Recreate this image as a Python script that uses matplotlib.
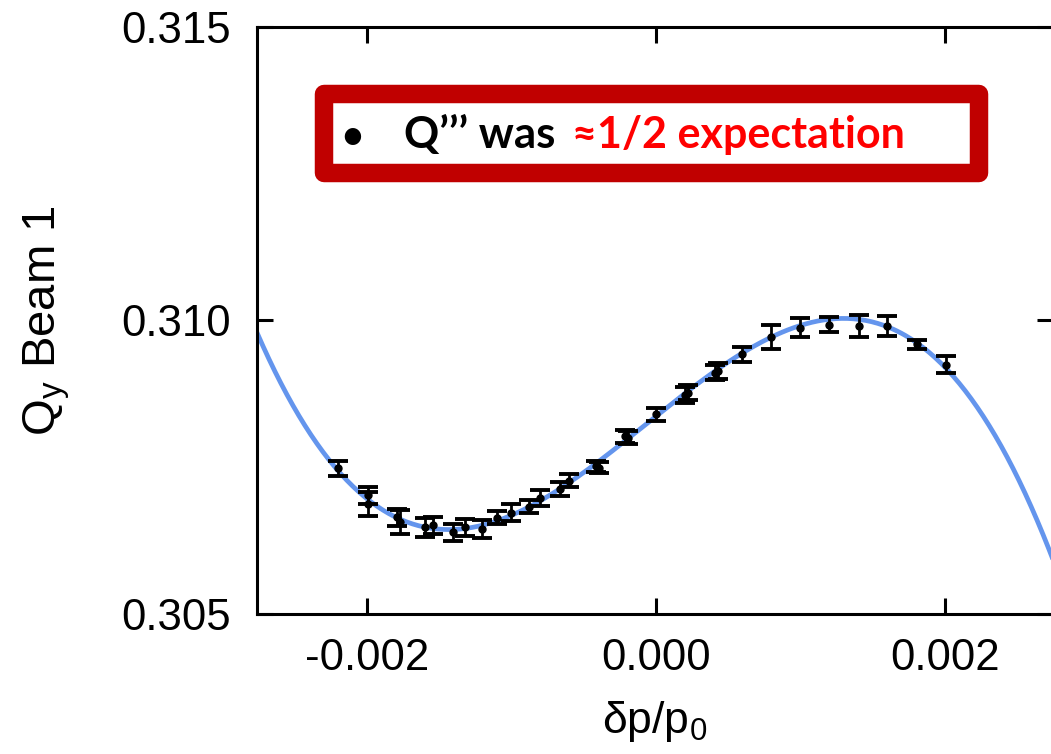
import matplotlib
matplotlib.use("Agg")
import matplotlib.pyplot as plt
import numpy as np
from matplotlib.patches import Rectangle

# --- Data -------------------------------------------------------
# momentum offset dp/p0 and measured vertical tune with errors
dp = [-0.00220, -0.00199, -0.00199, -0.00179, -0.00177, -0.00160, -0.00154,
      -0.00140, -0.00132, -0.00120, -0.00110, -0.00100, -0.00088, -0.00080,
      -0.00066, -0.00060, -0.00041, -0.00039, -0.00021, -0.00019, 0.00000,
      0.00020, 0.00022, 0.00041, 0.00043, 0.00060, 0.00080, 0.00100, 0.00120,
      0.00141, 0.00160, 0.00181, 0.00201]
qy = [0.307484, 0.307019, 0.306882, 0.306649, 0.306564, 0.306474, 0.306508,
      0.306394, 0.306479, 0.306451, 0.306639, 0.306726, 0.306826, 0.306968,
      0.307124, 0.307269, 0.307515, 0.307495, 0.308030, 0.308000, 0.308404,
      0.308730, 0.308770, 0.309110, 0.309140, 0.309424, 0.309716, 0.309877,
      0.309929, 0.309901, 0.309903, 0.309594, 0.309247]
qy_err = [1.28e-4, 1.42e-4, 2.04e-4, 1.42e-4, 2.00e-4, 1.65e-4, 1.42e-4,
          1.42e-4, 1.42e-4, 1.53e-4, 1.14e-4, 1.50e-4, 1.08e-4, 1.36e-4,
          1.22e-4, 1.08e-4, 0.90e-4, 0.90e-4, 1.10e-4, 1.10e-4, 1.08e-4,
          1.30e-4, 1.30e-4, 1.30e-4, 1.30e-4, 1.33e-4, 2.10e-4, 1.62e-4,
          1.28e-4, 1.85e-4, 1.70e-4, 0.77e-4, 1.45e-4]

# fitted curve
fit_dp = [-0.002747, -0.002545, -0.002313, -0.002083, -0.001356, 0.0,
          0.001329, 0.001896, 0.002127, 0.002358, 0.002588, 0.002734]
fit_qy = [0.309716, 0.308693, 0.307842, 0.307104, 0.306445, 0.308382,
          0.310005, 0.309460, 0.308864, 0.308012, 0.306877, 0.306026]

xticks = [-0.002, 0.0, 0.002]
yticks = [0.305, 0.310, 0.315]

# --- Style -------------------------------------------------------
plt.rcParams["font.family"] = "Liberation Sans"
plt.rcParams["mathtext.fontset"] = "custom"
plt.rcParams["mathtext.rm"] = "Liberation Sans"
plt.rcParams["mathtext.it"] = "Liberation Sans"

W, H = 1051, 754
fig = plt.figure(figsize=(W / 100, H / 100), dpi=100)
ax = fig.add_axes([257 / W, 140 / H, 796 / W, 587 / H])

coef = np.polyfit(fit_dp, fit_qy, 4)
xs = np.linspace(-0.00276, 0.00275, 400)
ax.plot(xs, np.polyval(coef, xs), color="#6495ED", lw=3.4, zorder=2)

ax.errorbar(dp, qy, yerr=qy_err, fmt="o", color="black", ms=5,
            elinewidth=2.0, capsize=7, capthick=2.8, zorder=3)

ax.set_xlim(-0.00276, 0.00275)
ax.set_ylim(0.305, 0.315)
ax.set_xticks(xticks)
ax.set_yticks(yticks)
ax.set_xticklabels([f"{t:.3f}" for t in xticks])
ax.set_yticklabels([f"{t:.3f}" for t in yticks])

for s in ax.spines.values():
    s.set_linewidth(2.2)
ax.tick_params(direction="in", length=11.5, width=2.2, labelsize=31.5,
               top=True, right=True)
ax.tick_params(axis="x", pad=17)
ax.tick_params(axis="y", pad=19)

ax.set_xlabel(r"δp/p$_\mathrm{0}$", fontsize=32)
ax.xaxis.set_label_coords(0.5, -0.145)
ax.set_ylabel(r"Q$_\mathrm{y}$ Beam 1", fontsize=34)
ax.yaxis.set_label_coords(-0.232, 0.5)

# --- Annotation box ---------------------------------------------
box = Rectangle((324 / W, 1 - 172.5 / H), 655 / W, 78.5 / H,
                transform=fig.transFigure, facecolor="white",
                edgecolor="#C00000", linewidth=13.3, joinstyle="round",
                zorder=5)
fig.add_artist(box)

fam = ["Lato", "DejaVu Sans"]
ty = 1 - 148 / H
fig.text(352 / W, ty, "•", ha="center", va="baseline", fontsize=27,
         fontweight="bold", family=fam, zorder=6)
fig.text(404 / W, ty, "Q’’’ was", ha="left", va="baseline",
         fontsize=31.5, fontweight="bold", family=fam, zorder=6)
fig.text(572 / W, ty, "≈1/2 expectation", ha="left", va="baseline",
         fontsize=31, fontweight="bold", family=fam, color="#FF0000",
         zorder=6)

fig.savefig("out.png", dpi=100)
